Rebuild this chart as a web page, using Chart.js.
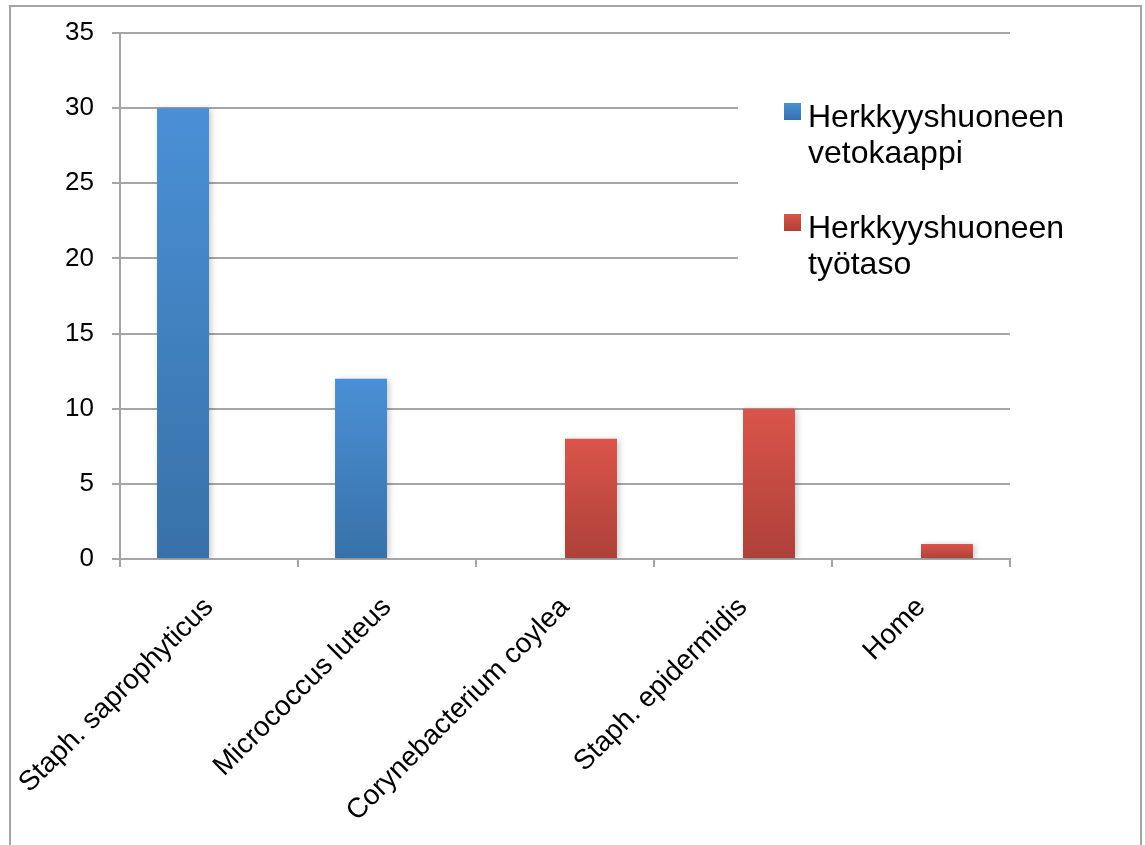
<!DOCTYPE html>
<html>
<head>
<meta charset="utf-8">
<title>Herkkyyshuone</title>
<script src="https://cdn.jsdelivr.net/npm/chart.js@4.4.1/dist/chart.umd.min.js"></script>
<style>
  html, body { margin: 0; padding: 0; background: #fff; }
  #wrap { position: relative; width: 1145px; height: 845px; overflow: hidden; }
  #frame {
    position: absolute; left: 9px; top: 5px; width: 1133px; height: 900px;
    border: 2px solid #a5a5a5; box-sizing: border-box;
  }
  #chart { position: absolute; left: 0; top: 0; }
</style>
</head>
<body>
<div id="wrap">
  <div id="frame"></div>
  <canvas id="chart" width="1145" height="845"></canvas>
</div>
<script>
// Bacteria found in the sensitivity room samples
const categories = [
  'Staph. saprophyticus',
  'Micrococcus luteus',
  'Corynebacterium coylea',
  'Staph. epidermidis',
  'Home'
];
const seriesNames = ['Herkkyyshuoneen vetokaappi', 'Herkkyyshuoneen työtaso'];
const fumeHood = [30, 12, 0, 0, 0];
const workSurface = [0, 0, 8, 10, 1];
const yTicks = [0, 5, 10, 15, 20, 25, 30, 35];

const FONT = '"Liberation Sans", Arial, Helvetica, sans-serif';
const GRID = '#a5a5a5';
const BLUE = ['#4a90d6', '#3871a8'];
const RED = ['#da544a', '#ad4139'];

// vertical gradient spanning each bar, light at the top and darker at the base
function barFill(colors) {
  return function (ctx) {
    const chart = ctx.chart;
    const y = chart.scales && chart.scales.y;
    if (!chart.chartArea || !y || ctx.raw == null) return colors[0];
    const top = y.getPixelForValue(ctx.raw);
    const base = y.getPixelForValue(0);
    if (base - top < 1) return colors[0];
    const g = chart.ctx.createLinearGradient(0, top, 0, base);
    g.addColorStop(0, colors[0]);
    g.addColorStop(1, colors[1]);
    return g;
  };
}

// soft drop shadow behind the bars
const barShadow = {
  id: 'barShadow',
  beforeDatasetsDraw(chart) {
    const c = chart.ctx;
    c.save();
    c.shadowColor = 'rgba(0,0,0,0.22)';
    c.shadowBlur = 6;
    c.shadowOffsetX = 2;
    c.shadowOffsetY = 1;
  },
  afterDatasetsDraw(chart) {
    chart.ctx.restore();
  }
};

// legend box sitting over the upper right of the plot
const sideLegend = {
  id: 'sideLegend',
  afterDraw(chart) {
    const c = chart.ctx;
    const area = chart.chartArea;
    const boxLeft = area.right - 272;
    c.save();
    c.fillStyle = '#ffffff';
    c.fillRect(boxLeft, 92, 340, 206);
    c.font = '32px ' + FONT;
    c.textBaseline = 'alphabetic';
    c.textAlign = 'left';
    chart.data.datasets.forEach((ds, i) => {
      const top = 103 + i * 111;
      const colors = ds.gradientColors;
      const g = c.createLinearGradient(0, top, 0, top + 17);
      g.addColorStop(0, colors[0]);
      g.addColorStop(1, colors[1]);
      c.fillStyle = g;
      c.fillRect(boxLeft + 46, top, 17, 17);
      c.fillStyle = '#000';
      const words = ds.label.split(' ');
      words.forEach((w, j) => {
        c.fillText(w, boxLeft + 70, top + 24 + j * 36);
      });
    });
    c.restore();
  }
};

new Chart(document.getElementById('chart'), {
  type: 'bar',
  data: {
    labels: categories,
    datasets: [
      {
        label: seriesNames[0],
        data: fumeHood,
        gradientColors: BLUE,
        backgroundColor: barFill(BLUE),
        borderWidth: 0
      },
      {
        label: seriesNames[1],
        data: workSurface,
        gradientColors: RED,
        backgroundColor: barFill(RED),
        borderWidth: 0
      }
    ]
  },
  options: {
    responsive: false,
    animation: false,
    maintainAspectRatio: false,
    categoryPercentage: 0.584,
    barPercentage: 1,
    layout: { padding: { left: 0, top: 33, right: 135, bottom: 0 } },
    plugins: {
      legend: { display: false },
      tooltip: { enabled: false }
    },
    scales: {
      x: {
        offset: true,
        grid: {
          display: true,
          offset: true,
          drawOnChartArea: false,
          drawTicks: true,
          tickLength: 8,
          color: GRID,
          lineWidth: 2
        },
        border: { display: true, color: GRID, width: 2 },
        ticks: {
          autoSkip: false,
          maxRotation: 45,
          minRotation: 45,
          padding: 24,
          color: '#000',
          font: { family: FONT, size: 28 }
        },
        afterFit(scale) {
          scale.height = 286;
          scale.paddingLeft = 0;
          scale.paddingRight = 0;
        }
      },
      y: {
        min: 0,
        max: 35,
        afterBuildTicks(scale) {
          scale.ticks = yTicks.map(v => ({ value: v }));
        },
        grid: {
          color: GRID,
          lineWidth: 2,
          drawTicks: true,
          tickLength: 8
        },
        border: { display: true, color: GRID, width: 2 },
        ticks: {
          padding: 18,
          color: '#000',
          font: { family: FONT, size: 26 }
        },
        afterFit(scale) {
          scale.width = 120;
          scale.paddingTop = 0;
          scale.paddingBottom = 0;
        }
      }
    }
  },
  plugins: [barShadow, sideLegend]
});
</script>
</body>
</html>
